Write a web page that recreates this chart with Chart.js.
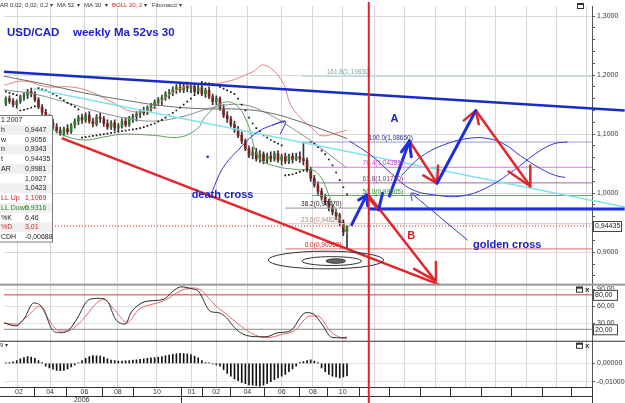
<!DOCTYPE html>
<html>
<head>
<meta charset="utf-8">
<script src="https://cdn.jsdelivr.net/npm/chart.js@4.4.1/dist/chart.umd.min.js"></script>
<style>
  html, body { margin: 0; padding: 0; background: #fff; overflow: hidden; }
  #wrap { width: 625px; height: 403px; }
</style>
</head>
<body>
<div id="wrap"><canvas id="c" width="625" height="403"></canvas></div>
<script>
// weekly candles, week 0 = start of Feb 2006
const opens = [1.152,1.160,1.156,1.150,1.155,1.163,1.166,1.172,1.168,1.158,
  1.146,1.137,1.128,1.119,1.112,1.106,1.101,1.109,1.104,1.115,
  1.122,1.128,1.124,1.132,1.122,1.117,1.129,1.126,1.118,1.112,
  1.119,1.110,1.114,1.122,1.116,1.127,1.130,1.134,1.139,1.136,
  1.145,1.149,1.154,1.158,1.162,1.168,1.171,1.176,1.179,1.175,
  1.182,1.178,1.181,1.172,1.179,1.168,1.174,1.163,1.155,1.160,
  1.143,1.132,1.126,1.116,1.108,1.098,1.088,1.075,1.064,1.070,
  1.058,1.066,1.055,1.063,1.058,1.067,1.056,1.062,1.054,1.063,
  1.057,1.062,1.058,1.055,1.040,1.025,1.014,1.003,0.993,0.985,
  0.975,0.968,0.962,0.950,0.9343];
const highs = [1.163,1.165,1.160,1.158,1.166,1.170,1.176,1.178,1.172,1.162,
  1.150,1.142,1.133,1.125,1.118,1.112,1.112,1.116,1.118,1.126,
  1.132,1.134,1.136,1.138,1.127,1.133,1.135,1.130,1.124,1.123,
  1.124,1.118,1.126,1.128,1.130,1.134,1.138,1.142,1.146,1.148,
  1.152,1.158,1.162,1.166,1.172,1.176,1.180,1.184,1.186,1.187,
  1.188,1.186,1.186,1.183,1.184,1.178,1.180,1.168,1.165,1.163,
  1.150,1.138,1.130,1.122,1.113,1.104,1.092,1.080,1.078,1.076,
  1.072,1.070,1.068,1.070,1.071,1.072,1.066,1.068,1.066,1.068,
  1.068,1.070,1.0865,1.060,1.044,1.030,1.019,1.008,0.998,0.990,
  0.980,0.972,0.966,0.955,0.9447];
const lows = [1.148,1.152,1.146,1.144,1.152,1.157,1.160,1.163,1.155,1.143,
  1.133,1.124,1.116,1.108,1.102,1.098,1.097,1.100,1.101,1.110,
  1.116,1.118,1.120,1.118,1.112,1.114,1.120,1.113,1.108,1.108,
  1.106,1.105,1.110,1.112,1.113,1.120,1.122,1.128,1.132,1.133,
  1.139,1.143,1.148,1.150,1.157,1.160,1.165,1.169,1.171,1.170,
  1.172,1.170,1.168,1.168,1.165,1.162,1.160,1.150,1.150,1.140,
  1.128,1.120,1.112,1.103,1.094,1.084,1.072,1.060,1.058,1.054,
  1.052,1.050,1.050,1.053,1.054,1.052,1.048,1.050,1.050,1.051,
  1.055,1.052,1.048,1.036,1.020,1.010,0.998,0.988,0.980,0.970,
  0.963,0.955,0.945,0.928,0.9056];
const closes = [1.160,1.156,1.150,1.155,1.163,1.166,1.172,1.168,1.158,1.146,
  1.137,1.128,1.119,1.112,1.106,1.101,1.109,1.104,1.115,1.122,
  1.128,1.124,1.132,1.122,1.117,1.129,1.126,1.118,1.112,1.119,
  1.110,1.114,1.122,1.116,1.127,1.130,1.134,1.139,1.136,1.145,
  1.149,1.154,1.158,1.162,1.168,1.171,1.176,1.179,1.175,1.182,
  1.178,1.181,1.172,1.179,1.168,1.174,1.163,1.155,1.160,1.143,
  1.132,1.126,1.116,1.108,1.098,1.088,1.075,1.064,1.070,1.058,
  1.066,1.055,1.063,1.058,1.067,1.056,1.062,1.054,1.063,1.057,
  1.062,1.058,1.055,1.040,1.025,1.014,1.003,0.993,0.985,0.975,
  0.968,0.962,0.950,0.934,0.94435];

// parabolic SAR, one dot per week
const sar = [1.172,1.170,1.168,1.166,
  1.140,1.141,1.143,1.145,1.147,
  1.178,1.176,1.174,1.171,1.168,1.165,1.161,1.157,1.153,1.150,1.146,1.142,
  1.094,1.095,1.096,1.097,1.098,1.099,1.100,1.101,1.102,1.103,1.104,1.105,1.106,1.107,1.108,
  1.109,1.110,1.112,1.114,1.116,1.118,1.121,1.124,1.128,1.132,1.136,1.140,1.145,1.150,1.155,1.160,1.166,1.170,
  1.188,1.187,1.186,1.185,1.183,1.180,1.177,1.174,1.171,1.168,1.160,1.150,1.140,1.128,1.118,1.110,1.105,
  1.098,1.094,1.090,1.087,1.084,1.081,
  1.030,1.031,1.032,1.034,1.036,1.038,1.040,
  1.0865,1.084,1.078,1.072,1.066,1.057,1.047,1.035,1.022,1.010,0.998];

// moving averages and bollinger bands (week, value)
const ma52Weeks = [-0.5,10.4,21.4,32.3,43.3,54.2,65.2,73.4,81.6,87.1,94];
const ma52 = [1.198,1.185,1.170,1.158,1.148,1.143,1.142,1.135,1.120,1.108,1.0927];
const ma30Weeks = [-0.5,7.7,15.9,24.1,32.3,40.5,48.8,57,65.2,72,78.9,87.1,94];
const ma30 = [1.175,1.168,1.155,1.140,1.128,1.122,1.130,1.145,1.150,1.135,1.110,1.075,1.0423];
const bollUpWeeks = [-0.5,5,11.3,17.8,23.3,29.6,35.1,40.6,44.7,50.7,59.7,67.9,71.2,76.1,78.9,85.2,87.1,91.7,94];
const bollUp = [1.183,1.19,1.18,1.18,1.172,1.153,1.138,1.145,1.165,1.183,1.187,1.205,1.217,1.19,1.145,1.105,1.097,1.103,1.1069];
const bollDownWeeks = [-0.5,10.4,15.9,21.4,26.9,32.3,40.5,48,52.9,55,59.7,63.3,66.5,69.8,74.8,80.2,85.7,89.8,94];
const bollDown = [1.12,1.115,1.098,1.090,1.095,1.10,1.098,1.095,1.11,1.13,1.153,1.15,1.12,1.06,1.045,1.04,1.035,0.985,0.9316];

// stochastic
const stochKWeeks = [-0.5,2.8,5,7.7,10.4,12.6,14.8,17,19.2,23,25.8,28,30.2,32.9,34.5,36.7,38.9,43.3,46.6,48.2,51,53.1,56.4,58.6,60.8,63,65.2,69.6,71.7,75,78.3,82.7,84.9,87.1,89.8,92.5,94];
const stochK = [31,26,38,66,55,21,14,17,34,72,74,69,38,29,49,63,69,72,89,94,91,86,51,49,40,23,12,7,7,14,17,49,46,29,6,5,6.46];
const stochDWeeks = [-0.5,2.8,5.5,9.4,11.5,14.8,17,20.3,26.9,30.2,33.4,36.7,40,43.3,48.8,52,54.2,57.5,60.8,64.1,67.4,71.7,76.1,79.4,83.8,86,89.3,92,94];
const stochD = [31,29,40,60,40,17,17,31,72,52,32,55,63,69,89,92,86,63,46,29,14,5,11,17,43,43,17,6,3.01];

// MACD histogram, one bar per week
const macdHist = [0.0003,0.0005,0.0008,0.0015,
  0.0025,0.0032,0.0037,0.0035,0.0028,
  0.0015,0.0005,
  -0.0015,-0.0025,-0.0032,-0.0038,-0.0040,-0.0038,-0.0030,-0.0020,
  -0.0008,0.0002,
  0.0015,0.0028,0.0038,0.0043,0.0042,0.0040,0.0035,0.0025,
  0.0018,0.0015,0.0013,0.0012,0.0014,0.0016,0.0018,
  0.0020,0.0022,0.0025,0.0028,0.0030,0.0032,0.0035,0.0038,0.0042,0.0045,0.0050,0.0053,
  0.0055,0.0054,0.0052,0.0048,0.0040,0.0030,
  0.0015,0.0005,0.0002,-0.0003,-0.0008,-0.0015,
  -0.0035,-0.0055,-0.0070,-0.0085,-0.0095,-0.0105,-0.0112,-0.0118,-0.0120,-0.0122,-0.0125,-0.0120,
  -0.0110,-0.0100,-0.0090,-0.0080,-0.0070,-0.0060,-0.0045,-0.0030,-0.0015,
  0.0005,0.0010,0.0015,0.0020,0.0012,0.0005,
  -0.0025,-0.0045,-0.0060,-0.0070,-0.0075,-0.0080,-0.0075,-0.00688];

// fibonacci retracement
const fibNames = ['161.8','100.0','76.4','61.8','50.0','38.2','23.6','0.0'];
const fibLevels = [1.1983,1.0865,1.04381,1.0174,0.99605,0.9747,0.94829,0.9056];
const fibStartWeeks = [81.6,81.6,84.3,84.3,84.3,77,77,77];
const fibLabelWeeks = [88.4,100,98.3,98.3,98.3,92.5,92.5,92.5];
const fibAlign = ['left','left','left','left','left','right','right','right'];
const fibLineColors = ['#c9dcdc','#9a9ad8','#e07ae0','#9a6a9a','#6aa06a','#9a9a9a','#dcc4c4','#e07070'];
const fibTextColors = ['#7fa6a6','#2a2a8a','#d040d0','#7a3a7a','#2a8a2a','#222222','#b08484','#d02020'];
const lastPrice = 0.94435;

// trend lines and hand-drawn marks, as (week, price) points
const resistanceLine = [[-0.5,1.2058],[170.5,1.14]];
const cyanLine = [[7.7,1.1767],[170.5,0.9767]];
const targetLine = [[99.9,0.9733],[170.5,0.9733]];
const redTrend = [[15.4,1.0933],[119.4,0.845]];
const blueArrows = [
  [[95.3,0.9467],[99.4,0.9967]],
  [[97.2,0.9883],[99.4,0.9967],[99.7,0.9783]],
  [[102.7,0.9717],[103.8,1.0]],
  [[105.7,0.995],[111.2,1.0883]],
  [[109.0,1.070],[111.2,1.0883],[111.7,1.0617]],
  [[118.8,1.0167],[129.5,1.14]]
];
const redArrows = [
  [[99.9,0.9967],[118.3,0.8517]],
  [[112.5,0.8717],[118.3,0.8517],[118.5,0.8833]],
  [[99.4,0.9967],[102.7,0.9717]],
  [[111.2,1.0883],[118.8,1.0167]],
  [[115.0,1.030],[118.8,1.0167],[119.1,1.0467]],
  [[126.2,1.1233],[129.5,1.14],[130.3,1.1167]],
  [[129.5,1.14],[144.5,1.0117]],
  [[138.5,1.0367],[144.5,1.0117],[144.5,1.0467]]
];
const thinCurves = [
  [[57,1.005],[59.7,1.0417],[63.8,1.0717],[69.3,1.1033],[74.8,1.1183],[77,1.1217]],
  [[73.4,1.115],[77,1.1217],[75.6,1.10]],
  [[94.7,1.0883],[100.8,1.0633],[106.2,1.0333],[111.7,1.0067],[118.5,0.9967],[125.4,0.995],[132.2,1.0083],[139.9,1.0383],[145.9,1.0667],[150.8,1.0833],[154.7,1.0867]],
  [[109,1.03],[114.4,1.0617],[121.3,1.0833],[128.1,1.0933],[133.6,1.0917],[137.7,1.0817],[141.8,1.0633],[147.3,1.0417],[151.4,1.03],[154.1,1.0267]],
  [[127.3,0.92],[111.7,1.0]],
  [[112,0.9867],[111.7,1.0],[113.9,0.9967]]
];
const markDot = [[55.6,1.0617]];
const ellipses = [
  { w: 88.2, p: 0.8867, rw: 15.9, rp: 0.015 },
  { w: 89.8, p: 0.885, rw: 8.2, rp: 0.0075 },
  { w: 90.9, p: 0.885, rw: 2.7, rp: 0.0037, fill: '#666' }
];
const notes = [
  { text: 'death cross', w: 59.7, p: 0.9967, color: '#1c22c8', font: 'bold 11px "Liberation Sans", Arial', align: 'center' },
  { text: 'golden cross', w: 128.7, p: 0.9117, color: '#1c22c8', font: 'bold 11px "Liberation Sans", Arial', align: 'left' },
  { text: 'A', w: 107.1, p: 1.125, color: '#1c22c8', font: 'bold 11px "Liberation Sans", Arial', align: 'center' },
  { text: 'B', w: 111.7, p: 0.9283, color: '#e02020', font: 'bold 11px "Liberation Sans", Arial', align: 'center' }
];

// axes
const gridWeeks = [7.7,16.7,26.6,35.1,48.2,54,61.9,71.2,80.8,88.4,97.2,105.7,114.2,122.4,130.9,139.1,147.6,155.8];
const monthLabels = ['02','04','06','08','10','01','02','04','06','08','10'];
const yearLabel = '2006';
const yearLabelWeek = 20.9;
const yearEndWeek = 48.2;
const cursorWeek = 100;
const priceMajor = [0.9, 1.0, 1.1, 1.2, 1.3];
const priceMinor = [0.86,0.88,0.92,0.94,0.96,0.98,1.02,1.04,1.06,1.08,1.12,1.14,1.16,1.18,1.22,1.24,1.26,1.28];
const stochTicks = [90, 60, 30];
const stochLevels = [80, 20];
const macdTicks = [0, -0.01];

const tableRows = [
  ['h', '0,9447', '#222'], ['w', '0,9056', '#222'], ['n', '0,9343', '#222'], ['t', '0,94435', '#222'],
  ['AR', '0,9981', '#222'], ['', '1,0927', '#222'], ['', '1,0423', '#222'],
  ['LL Up', '1,1069', '#d42020'], ['LL Down', '0,9316', '#1f8a1f'],
  ['%K', '6,46', '#222'], ['%D', '3,01', '#d42020'], ['CDH', '-0,00688', '#222']
];

const FONT = '"Liberation Sans", Arial, sans-serif';
Chart.defaults.font.family = FONT;

const toPts = arr => arr.map(([x, y]) => ({ x, y }));
const zip = (ws, vs) => ws.map((w, i) => ({ x: w, y: vs[i] }));
function lineDs(data, color, width, extra) {
  return Object.assign({ type: 'line', yAxisID: 'yP', data, borderColor: color, borderWidth: width,
    pointRadius: 0, tension: 0, fill: false }, extra || {});
}

const datasets = [];
blueArrows.forEach(a => datasets.push(lineDs(toPts(a), '#1f2fe0', 3, { borderCapStyle: 'round', borderJoinStyle: 'round' })));
redArrows.forEach(a => datasets.push(lineDs(toPts(a), '#e3262b', 2.5, { borderCapStyle: 'round', borderJoinStyle: 'round' })));
thinCurves.forEach(a => datasets.push(lineDs(toPts(a), '#3434d0', 1, { tension: 0.4 })));
datasets.push(lineDs(toPts(markDot), '#2020c0', 0, { showLine: false, pointRadius: 1.3, pointBackgroundColor: '#2020c0', pointBorderWidth: 0 }));
datasets.push(lineDs(toPts(redTrend), '#e3262b', 2.5, { clip: false }));
datasets.push(lineDs(toPts(targetLine), '#1f2fe0', 3, { clip: false }));
datasets.push(lineDs(toPts(resistanceLine), '#1a2bc4', 2.5, { clip: false }));
datasets.push(lineDs(toPts(cyanLine), '#7fe3ea', 1.5, { clip: false }));
fibLevels.forEach((v, i) => datasets.push(lineDs([{ x: fibStartWeeks[i], y: v }, { x: 161.5, y: v }], fibLineColors[i], i === 0 ? 2 : 1)));
datasets.push(lineDs([{ x: -0.5, y: lastPrice }, { x: 161.5, y: lastPrice }], '#e02020', 1, { borderDash: [1, 2] }));
datasets.push(lineDs(sar.map((v, i) => ({ x: i, y: v })), '#111', 0, { showLine: false, pointRadius: 1.2, pointStyle: 'rect', pointBackgroundColor: '#111', pointBorderWidth: 0 }));
datasets.push(lineDs(zip(ma52Weeks, ma52), '#6a6a6a', 1, { tension: 0.4 }));
datasets.push(lineDs(zip(ma30Weeks, ma30), '#8c8c8c', 1, { tension: 0.4 }));
datasets.push(lineDs(zip(bollUpWeeks, bollUp), '#e08080', 1, { tension: 0.4 }));
datasets.push(lineDs(zip(bollDownWeeks, bollDown), '#5f9f5f', 1, { tension: 0.4 }));
datasets.push({ type: 'bar', yAxisID: 'yP', grouped: false, barThickness: 2, minBarLength: 1,
  data: opens.map((o, i) => ({ x: i, y: [o, closes[i]] })),
  backgroundColor: opens.map((o, i) => closes[i] >= o ? '#2f7a2f' : '#7a2222') });
datasets.push({ type: 'bar', yAxisID: 'yP', grouped: false, barThickness: 1,
  data: lows.map((l, i) => ({ x: i, y: [l, highs[i]] })), backgroundColor: '#333' });
datasets.push(lineDs(zip(stochKWeeks, stochK), '#2b2b2b', 1, { yAxisID: 'yS', cubicInterpolationMode: 'monotone' }));
datasets.push(lineDs(zip(stochDWeeks, stochD), '#e06a6a', 1, { yAxisID: 'yS', cubicInterpolationMode: 'monotone' }));
datasets.push(lineDs([{ x: -0.5, y: stochLevels[0] }, { x: 161.5, y: stochLevels[0] }], '#cc3b3b', 1, { yAxisID: 'yS' }));
datasets.push(lineDs([{ x: -0.5, y: stochLevels[1] }, { x: 161.5, y: stochLevels[1] }], '#8a8a8a', 1, { yAxisID: 'yS' }));
datasets.push({ type: 'bar', yAxisID: 'yM', grouped: false, barThickness: 1,
  data: macdHist.map((v, i) => ({ x: i, y: v })), backgroundColor: '#111' });

const near = (arr, v) => arr.some(m => Math.abs(m - v) < 1e-6);
const comma = (v, d) => v.toFixed(d).replace('.', ',');

function boxLabel(ctx, text, x, y, w) {
  ctx.fillStyle = '#fff';
  ctx.fillRect(x, y - 5, w, 10);
  ctx.strokeStyle = '#444';
  ctx.lineWidth = 1;
  ctx.strokeRect(x + 0.5, y - 4.5, w, 10);
  ctx.fillStyle = '#222';
  ctx.textAlign = 'left';
  ctx.textBaseline = 'middle';
  ctx.fillText(text, x + 2, y + 0.5);
}
function panelIcon(ctx, x, y, withClose) {
  ctx.strokeStyle = '#333';
  ctx.lineWidth = 1;
  ctx.strokeRect(x + 0.5, y + 0.5, 6, 5);
  ctx.fillStyle = '#333';
  ctx.fillRect(x, y, 7, 2);
  if (withClose) {
    ctx.font = 'bold 8px ' + FONT;
    ctx.textAlign = 'left';
    ctx.textBaseline = 'middle';
    ctx.fillText('x', x + 9, y + 3);
  }
}

const overlay = {
  id: 'overlay',
  beforeDraw(chart) {
    const ctx = chart.ctx;
    ctx.save();
    ctx.fillStyle = '#fff';
    ctx.fillRect(0, 0, chart.width, chart.height);
    ctx.restore();
  },
  afterDatasetsDraw(chart) {
    const { ctx } = chart;
    const { x, yP } = chart.scales;
    ctx.save();
    ellipses.forEach(e => {
      const cx = x.getPixelForValue(e.w), cy = yP.getPixelForValue(e.p);
      const rx = x.getPixelForValue(e.w + e.rw) - cx;
      const ry = yP.getPixelForValue(e.p - e.rp) - cy;
      ctx.beginPath();
      ctx.ellipse(cx, cy, rx, ry, 0, 0, Math.PI * 2);
      if (e.fill) { ctx.fillStyle = e.fill; ctx.fill(); }
      ctx.strokeStyle = '#333';
      ctx.lineWidth = 1;
      ctx.stroke();
    });
    ctx.font = '6.5px ' + FONT;
    ctx.textBaseline = 'bottom';
    fibLevels.forEach((v, i) => {
      ctx.fillStyle = fibTextColors[i];
      ctx.textAlign = fibAlign[i];
      ctx.fillText(fibNames[i] + '(' + comma(v, 5) + ')', x.getPixelForValue(fibLabelWeeks[i]), yP.getPixelForValue(v) - 0.5);
    });
    notes.forEach(n => {
      ctx.font = n.font;
      ctx.fillStyle = n.color;
      ctx.textAlign = n.align;
      ctx.textBaseline = 'middle';
      ctx.fillText(n.text, x.getPixelForValue(n.w), yP.getPixelForValue(n.p));
    });
    ctx.restore();
  },
  afterDraw(chart) {
    const { ctx, chartArea: area } = chart;
    const { x, yP, yS, yM } = chart.scales;
    ctx.save();

    // toolbar
    ctx.font = '6px ' + FONT;
    ctx.textBaseline = 'middle';
    ctx.textAlign = 'left';
    [['AR 0,02; 0,02; 0,2', 0, '#333'], ['\u25BE', 50, '#333'], ['MA 52', 57, '#333'], ['\u25BE', 77, '#333'],
     ['MA 30', 84, '#333'], ['\u25BE', 105, '#333'], ['BOLL 20; 2', 112, '#d42020'], ['\u25BE', 144, '#333'],
     ['Fibonacci', 152, '#333'], ['\u25BE', 179, '#333']].forEach(([t, px, c]) => {
      ctx.fillStyle = c;
      ctx.fillText(t, px, 5);
    });

    // title
    ctx.font = 'bold 11.5px ' + FONT;
    ctx.fillStyle = '#1c22c8';
    ctx.textBaseline = 'alphabetic';
    ctx.fillText('USD/CAD', 7, 36);
    ctx.fillText('weekly Ma 52vs 30', 73, 36);

    // data window
    ctx.fillStyle = '#fff';
    ctx.fillRect(0, 115, 52, 127);
    tableRows.forEach((r, i) => {
      const top = 125 + i * 9.75;
      if (i % 2 === 0) { ctx.fillStyle = '#f0f0f0'; ctx.fillRect(0, top, 52, 9.75); }
    });
    ctx.strokeStyle = '#7c7c7c';
    ctx.lineWidth = 1;
    ctx.strokeRect(-1, 115.5, 53.5, 126.5);
    ctx.font = '7px ' + FONT;
    ctx.textBaseline = 'middle';
    ctx.fillStyle = '#222';
    ctx.fillText('1.2007', 1, 120.5);
    tableRows.forEach((r, i) => {
      const cy = 130 + i * 9.75;
      ctx.fillStyle = r[2];
      ctx.textAlign = 'left';
      ctx.fillText(r[0], 1, cy);
      ctx.fillText(r[1], 25, cy);
    });

    // panel separators
    ctx.fillStyle = '#9a9a9a';
    ctx.fillRect(0, yS.top - 1, chart.width, 2);
    ctx.fillStyle = '#333';
    ctx.fillRect(0, yM.top, chart.width, 1);
    ctx.fillRect(0, area.bottom, area.right + 1, 1);

    // time axis cells
    const cells = [-0.5].concat(gridWeeks, [161.5]);
    ctx.font = '7px ' + FONT;
    ctx.fillStyle = '#333';
    ctx.textAlign = 'center';
    ctx.textBaseline = 'middle';
    for (let i = 0; i < cells.length - 1; i++) {
      const x0 = x.getPixelForValue(cells[i]), x1 = x.getPixelForValue(cells[i + 1]);
      if (monthLabels[i]) ctx.fillText(monthLabels[i], (x0 + x1) / 2, area.bottom + 5);
    }
    ctx.fillText(yearLabel, x.getPixelForValue(yearLabelWeek), area.bottom + 13);
    ctx.fillStyle = '#333';
    gridWeeks.forEach(w => {
      const px = Math.round(x.getPixelForValue(w));
      ctx.fillRect(px, area.bottom, 1, w === yearEndWeek ? 16 : 9);
    });
    ctx.fillRect(0, area.bottom + 9, area.right, 1);
    ctx.fillRect(area.right, area.bottom, 1, 16);

    // axis value boxes
    ctx.font = '7px ' + FONT;
    boxLabel(ctx, comma(lastPrice, 5), area.right + 1, yP.getPixelForValue(lastPrice), 28);
    stochLevels.forEach(v => boxLabel(ctx, comma(v, 2), area.right + 1, yS.getPixelForValue(v), 24));

    // panel icons
    panelIcon(ctx, 577, 3, false);
    panelIcon(ctx, 576, yS.top + 2, true);
    panelIcon(ctx, 576, yM.top + 2, true);
    ctx.font = '6px ' + FONT;
    ctx.fillStyle = '#333';
    ctx.textAlign = 'left';
    ctx.fillText('9 \u25BE', 0, yM.top + 5);

    // cursor line
    const cx = x.getPixelForValue(cursorWeek);
    ctx.strokeStyle = '#e8202a';
    ctx.lineWidth = 2;
    ctx.beginPath();
    ctx.moveTo(cx, 2);
    ctx.lineTo(cx, chart.height);
    ctx.stroke();
    ctx.restore();
  }
};

const yTickFont = { size: 7, family: FONT };
new Chart(document.getElementById('c'), {
  type: 'bar',
  data: { datasets },
  options: {
    responsive: false,
    animation: false,
    events: [],
    layout: { padding: 0 },
    plugins: { legend: { display: false }, tooltip: { enabled: false } },
    scales: {
      x: {
        type: 'linear', min: -0.5, max: 161.5, position: 'bottom', offset: false,
        afterBuildTicks: s => { s.ticks = gridWeeks.map(v => ({ value: v })); },
        afterFit: s => { s.height = 16; },
        ticks: { display: false },
        grid: { color: '#d6d6d6', drawTicks: false },
        border: { display: false }
      },
      yP: {
        type: 'linear', position: 'right', stack: 'panels', stackWeight: 283,
        min: 0.845, max: 1.31667,
        afterBuildTicks: s => { s.ticks = priceMajor.concat(priceMinor).sort((a, b) => a - b).map(v => ({ value: v })); },
        afterFit: s => { s.width = 33; },
        ticks: { autoSkip: false, font: yTickFont, color: '#333', padding: 2,
          callback: v => near(priceMajor, v) ? comma(v, 4) : '' },
        grid: { color: c => c.tick && near(priceMajor, c.tick.value) ? '#d9d9d9' : 'rgba(0,0,0,0)',
          tickColor: '#555', tickLength: 3 },
        border: { color: '#555' }
      },
      yS: {
        type: 'linear', position: 'right', stack: 'panels', stackWeight: 57,
        min: 0, max: 97.8,
        afterBuildTicks: s => { s.ticks = stochTicks.map(v => ({ value: v })); },
        afterFit: s => { s.width = 33; },
        ticks: { autoSkip: false, font: yTickFont, color: '#333', padding: 2, callback: v => comma(v, 2) },
        grid: { color: '#e0e0e0', tickColor: '#555', tickLength: 3 },
        border: { color: '#555' }
      },
      yM: {
        type: 'linear', position: 'right', stack: 'panels', stackWeight: 47,
        min: -0.01297, max: 0.01243,
        afterBuildTicks: s => { s.ticks = macdTicks.map(v => ({ value: v })); },
        afterFit: s => { s.width = 33; },
        ticks: { autoSkip: false, font: yTickFont, color: '#333', padding: 2, callback: v => comma(v, 5) },
        grid: { color: '#e0e0e0', tickColor: '#555', tickLength: 3 },
        border: { color: '#555' }
      }
    }
  },
  plugins: [overlay]
});
</script>
</body>
</html>
